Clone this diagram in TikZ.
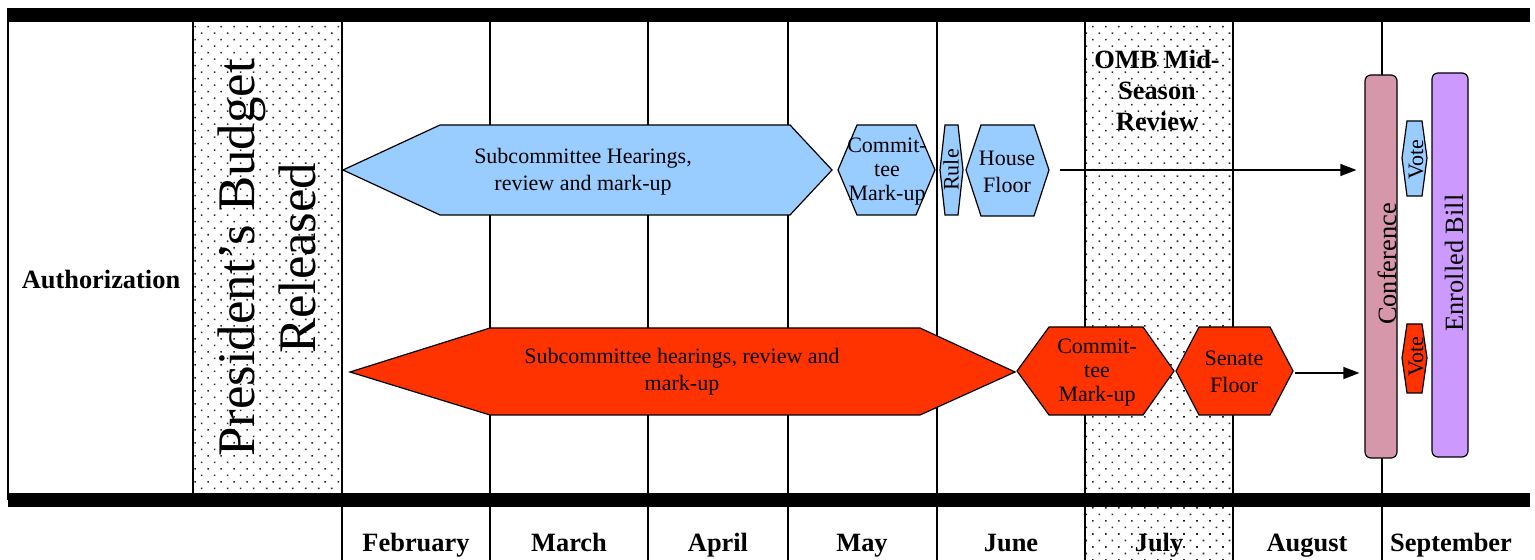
\documentclass[tikz,border=0pt]{standalone}
\usepackage{fontspec}
\setmainfont{Liberation Serif}
\usetikzlibrary{arrows.meta,patterns.meta}
\definecolor{hsblue}{RGB}{153,204,255}
\definecolor{snred}{RGB}{255,51,0}
\definecolor{confpink}{RGB}{214,151,171}
\definecolor{billlilac}{RGB}{204,153,255}

\tikzset{
  colline/.style={line width=0.75pt},
  bar/.style={line width=7pt},
  dotted area/.style={pattern={Dots[distance=4.6pt,angle=45,radius=0.55pt]},pattern color=black!85},
  hexa/.style={draw,line width=0.6pt,line join=miter},
  body/.style={font=\fontsize{11}{13.5}\selectfont,align=center,inner sep=0pt},
  small/.style={font=\fontsize{11}{12}\selectfont,align=center,inner sep=0pt},
  month/.style={font=\fontsize{13.2}{15}\selectfont\bfseries,inner sep=0pt},
  flow/.style={line width=0.6pt,-{Triangle[length=8pt,width=6pt]}},
  tallbox/.style={draw,rounded corners=3pt,line width=0.6pt}
}

\begin{document}
\begin{tikzpicture}[x=0.5pt,y=-0.5pt]
\useasboundingbox (0,0) rectangle (1535,560);
\fill[white] (0,0) rectangle (1535,560);
% Dotted columns
\path[dotted area] (193,22) rectangle (342,493);
\path[dotted area] (1085,22) rectangle (1233,560);
% Grid
\draw[colline] (8,8) -- (8,500);
\draw[colline] (193,22) -- (193,493);
\foreach \x in {342,490,648,788,937,1085,1233,1382}
  \draw[colline] (\x,22) -- (\x,560);
\draw[bar] (8,15) -- (1530,15);
\draw[bar] (8,500) -- (1530,500);

% Row and column headings
\node[month] (auth) at (101,280) {Authorization};
\node[rotate=90,align=center,inner sep=0pt,font=\fontsize{26.4}{30.5}\selectfont] (pres) at (267,258) {President’s Budget\\Released};
\node[month,align=center,font=\fontsize{13.2}{15.5}\selectfont\bfseries] (omb) at (1157,90) {OMB Mid-\\Season\\Review};
\foreach \name/\x/\m in {feb/416/February,mar/569/March,apr/718/April,may/862/May,
    jun/1011/June,jul/1159/July,aug/1307/August,sep/1451/September}
  \node[month,anchor=base] (\name) at (\x,551) {\m};

% House
\draw[hexa,fill=hsblue] (343,170) -- (440,125) -- (790,125) -- (832,170) -- (790,215) -- (440,215) -- cycle;
\node[body] (hhear) at (583,172) {Subcommittee Hearings,\\review and mark-up};
\draw[hexa,fill=hsblue] (838,170) -- (857,125) -- (916,125) -- (935,170) -- (916,215) -- (857,215) -- cycle;
\node[small] (hmark) at (887,172) {Commit-\\tee\\Mark-up};
\draw[hexa,fill=hsblue] (940,170) -- (945,125) -- (958,125) -- (963,170) -- (958,215) -- (945,215) -- cycle;
\node[small,rotate=90] (rule) at (951,170) {Rule};
\draw[hexa,fill=hsblue] (966,170) -- (981,125) -- (1034,125) -- (1049,170) -- (1034,216) -- (981,216) -- cycle;
\node[body] (hfloor) at (1007,172) {House\\Floor};
\coordinate (hfloorE) at (1060,170);

% Senate
\draw[hexa,fill=snred] (350,372) -- (490,328) -- (920,328) -- (1015,372) -- (920,415) -- (490,415) -- cycle;
\node[body] (shear) at (682,372) {Subcommittee hearings, review and\\mark-up};
\draw[hexa,fill=snred] (1017,371) -- (1049,327) -- (1143,327) -- (1174,371) -- (1143,415) -- (1049,415) -- cycle;
\node[small] (smark) at (1097,373) {Commit-\\tee\\Mark-up};
\draw[hexa,fill=snred] (1176,371) -- (1199,327) -- (1270,327) -- (1293,371) -- (1270,415) -- (1199,415) -- cycle;
\node[body] (sfloor) at (1234,372) {Senate\\Floor};
\coordinate (sfloorE) at (1295,373);

% Conference and enrolled bill
\node[tallbox,fill=confpink,minimum width=16pt,minimum height=191.5pt,inner sep=0pt] (conf) at (1381,266.5) {};
\node[rotate=90,inner sep=0pt,font=\fontsize{13.2}{15}\selectfont] (conftext) at (1387,264) {Conference};
\node[tallbox,fill=billlilac,minimum width=18pt,minimum height=192pt,inner sep=0pt] (bill) at (1450,265) {};
\node[rotate=90,inner sep=0pt,font=\fontsize{13.2}{15}\selectfont] (billtext) at (1454,263) {Enrolled Bill};
\draw[hexa,fill=hsblue] (1402,158) -- (1407,121) -- (1422,121) -- (1427,158) -- (1422,196) -- (1407,196) -- cycle;
\node[small,rotate=90] (hvote) at (1416,160) {Vote};
\draw[hexa,fill=snred] (1402,358) -- (1407,324) -- (1422,324) -- (1427,358) -- (1422,393) -- (1407,393) -- cycle;
\node[small,rotate=90] (svote) at (1416,357) {Vote};

% Flow into conference
\draw[flow,shorten >=4pt] (hfloorE) -- (conf.west |- hfloorE);
\draw[flow,shorten >=2.5pt] (sfloorE) -- (conf.west |- sfloorE);
\end{tikzpicture}
\end{document}
